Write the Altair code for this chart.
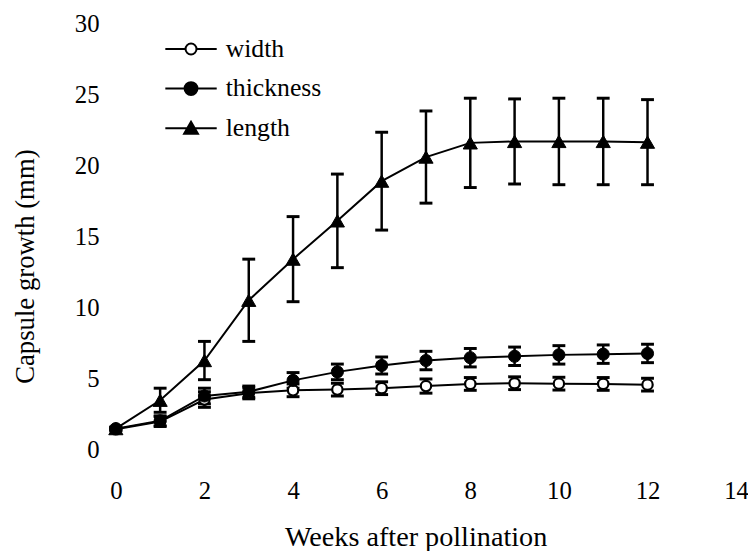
import altair as alt
import pandas as pd

weeks = [0, 1, 2, 3, 4, 5, 6, 7, 8, 9, 10, 11, 12]
width_mean = [1.4, 1.95, 3.5, 3.95, 4.15, 4.2, 4.3, 4.45, 4.6, 4.65, 4.62, 4.6, 4.55]
width_sd = [0.1, 0.35, 0.55, 0.4, 0.45, 0.45, 0.45, 0.5, 0.45, 0.45, 0.45, 0.45, 0.45]
thickness_mean = [1.45, 2.0, 3.75, 4.05, 4.85, 5.45, 5.9, 6.25, 6.45, 6.55, 6.65, 6.7, 6.75]
thickness_sd = [0.1, 0.35, 0.55, 0.4, 0.55, 0.55, 0.6, 0.65, 0.65, 0.65, 0.65, 0.65, 0.65]
length_mean = [1.45, 3.45, 6.25, 10.5, 13.4, 16.1, 18.9, 20.6, 21.6, 21.7, 21.7, 21.7, 21.65]
length_sd = [0.1, 0.85, 1.35, 2.9, 3.0, 3.3, 3.45, 3.25, 3.15, 3.0, 3.05, 3.05, 3.0]

series_names = ["width", "thickness", "length"]
x_ticks = [0, 2, 4, 6, 8, 10, 12, 14]
y_ticks = [0, 5, 10, 15, 20, 25, 30]

rows = []
for name, means, sds in [("width", width_mean, width_sd),
                         ("thickness", thickness_mean, thickness_sd),
                         ("length", length_mean, length_sd)]:
    for w, m, s in zip(weeks, means, sds):
        rows.append({"week": w, "series": name, "value": m, "lo": m - s, "hi": m + s})
df = pd.DataFrame(rows)

FONT = "Liberation Serif, Times New Roman, Times, serif"

x_enc = alt.X("week:Q", scale=alt.Scale(domain=[0, 14], nice=False),
              axis=alt.Axis(values=x_ticks, title="Weeks after pollination", domain=False, ticks=False,
                            grid=False, labelFlush=False, labelOverlap=False, labelFontSize=25,
                            labelPadding=30, titleFontSize=28.5, titleFontWeight="normal",
                            titleX=303, titleY=88, titleBaseline="middle", format="d"))
y_enc = alt.Y("value:Q", scale=alt.Scale(domain=[0, 30], nice=False),
              axis=alt.Axis(values=y_ticks, title="Capsule growth (mm)", domain=False, ticks=False,
                            grid=False, labelFlush=False, labelOverlap=False, labelFontSize=25,
                            labelPadding=17, titleFontSize=27, titleFontWeight="normal",
                            titleX=-91, titleY=245, titleBaseline="middle", format="d"))

base = alt.Chart(df)

lines = base.mark_line(color="black", strokeWidth=2).encode(
    x=x_enc, y=y_enc, detail="series:N")

bars = base.mark_rule(color="black", strokeWidth=2.5).encode(
    x="week:Q", y="lo:Q", y2="hi:Q")
caps_hi = base.mark_tick(color="black", orient="horizontal", size=13, thickness=3, opacity=1).encode(
    x="week:Q", y="hi:Q")
caps_lo = base.mark_tick(color="black", orient="horizontal", size=13, thickness=3, opacity=1).encode(
    x="week:Q", y="lo:Q")

pts_w = base.transform_filter(alt.datum.series == "width").mark_point(
    shape="circle", filled=True, fill="white", stroke="black", strokeWidth=2.2, size=110, opacity=1).encode(
    x="week:Q", y="value:Q")
pts_t = base.transform_filter(alt.datum.series == "thickness").mark_point(
    shape="circle", filled=True, fill="black", stroke="black", strokeWidth=1, size=150, opacity=1).encode(
    x="week:Q", y="value:Q")
pts_l = base.transform_filter(alt.datum.series == "length").mark_point(
    shape="triangle-up", filled=True, fill="black", stroke="black", strokeWidth=1, size=205, opacity=1).encode(
    x="week:Q", y="value:Q")

legend_paths = [
    "M-3.71,0L-0.79,0M0.79,0L3.71,0M-0.79,0A0.79,0.79,0,1,0,0.79,0A0.79,0.79,0,1,0,-0.79,0Z",
    "M-3.71,0L3.71,0M-0.93,0A0.93,0.93,0,1,0,0.93,0A0.93,0.93,0,1,0,-0.93,0Z",
    "M-3.71,0L3.71,0M0,-0.93L1,0.8L-1,0.8Z",
]
leg = alt.Legend(title=None, orient="none", legendX=63, legendY=12.5, labelFontSize=26,
                 labelOffset=22, rowPadding=14, symbolSize=196, symbolStrokeWidth=2,
                 symbolStrokeColor="black", padding=0, labelFont=FONT, labelColor="black")
legend_layer = base.transform_filter("false").mark_point(
    filled=True, stroke="black", strokeWidth=2, size=196, opacity=1).encode(
    x="week:Q", y="value:Q",
    shape=alt.Shape("series:N", scale=alt.Scale(domain=series_names, range=legend_paths), legend=leg),
    fill=alt.Fill("series:N", scale=alt.Scale(domain=series_names, range=["white", "black", "black"]),
                  legend=leg),
    stroke=alt.Stroke("series:N", scale=alt.Scale(domain=series_names, range=["black", "black", "black"]),
                      legend=leg),
)

chart = alt.layer(lines, bars, caps_hi, caps_lo, pts_w, pts_t, pts_l, legend_layer).properties(
    width=627, height=430,
    autosize=alt.AutoSizeParams(type="none"),
    padding={"left": 109, "top": 13, "right": 12, "bottom": 100},
).configure(font=FONT).configure_view(strokeWidth=0).configure_axis(
    labelColor="black", titleColor="black", labelFont=FONT, titleFont=FONT
).configure_legend(labelFont=FONT)

chart.save("out.html", embed_options={"renderer": "svg", "actions": False})
